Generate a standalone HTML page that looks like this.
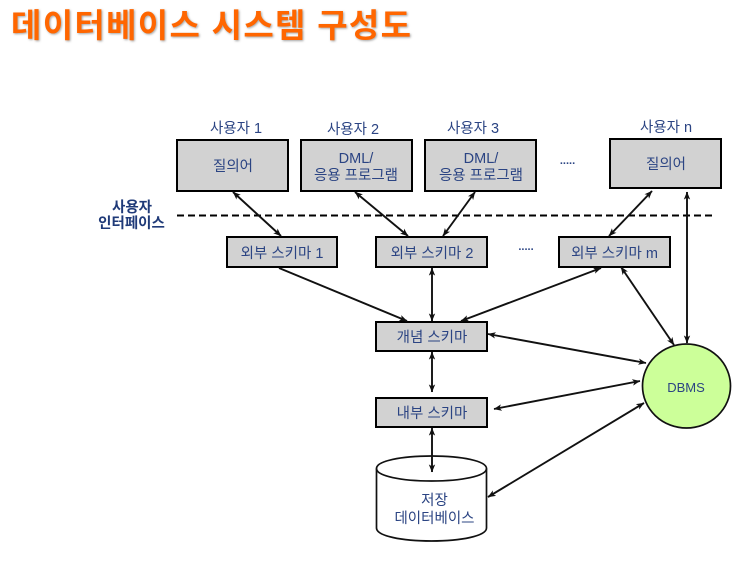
<!DOCTYPE html>
<html lang="ko"><head><meta charset="utf-8"><title>데이터베이스 시스템 구성도</title>
<style>
html,body{margin:0;padding:0;background:#fff}
svg{display:block;filter:blur(.3px)}
text{font-family:"Liberation Sans","Noto Sans CJK KR",sans-serif;fill:#2b4483;font-size:14.5px;text-anchor:middle}
.t{font-size:33px;font-weight:700;fill:#ff6600;text-anchor:start;text-shadow:1px 1px 2px rgba(90,90,90,.55)}
.b{font-weight:700;fill:#1f3a78}
.d{font-size:11px;font-weight:700}
.box{fill:#d2d2d2;stroke:#000;stroke-width:2}
.l{stroke:#111;stroke-width:1.9;fill:none}
</style></head><body>
<svg width="754" height="573" viewBox="0 0 754 573" xmlns="http://www.w3.org/2000/svg">
<defs>
<marker id="e" viewBox="0 0 10 8" refX="9.5" refY="4" markerWidth="8" markerHeight="7" markerUnits="userSpaceOnUse" orient="auto-start-reverse"><path d="M0 0L10 4L0 8L2.5 4Z" fill="#111"/></marker>
</defs>
<text class="t" x="11" y="37" textLength="400" lengthAdjust="spacing">데이터베이스 시스템 구성도</text>

<text x="236" y="133">사용자 1</text>
<text x="353" y="134">사용자 2</text>
<text x="473" y="133">사용자 3</text>
<text x="666" y="132">사용자 n</text>

<rect class="box" x="177" y="140" width="111" height="51"/>
<rect class="box" x="301" y="140" width="111" height="51"/>
<rect class="box" x="425" y="140" width="111" height="51"/>
<rect class="box" x="610" y="139" width="111" height="49"/>
<text x="233" y="171">질의어</text>
<text x="356" y="163">DML/</text><text x="356" y="180">응용 프로그램</text>
<text x="481" y="163">DML/</text><text x="481" y="180">응용 프로그램</text>
<text x="666" y="169">질의어</text>

<text class="d" x="567.5" y="164">.....</text>
<text class="d" x="526" y="250">.....</text>

<text class="b" x="132" y="212">사용자</text>
<text class="b" x="131.5" y="228">인터페이스</text>
<line x1="177" y1="215.5" x2="712" y2="215.5" stroke="#000" stroke-width="2" stroke-dasharray="7 4"/>

<rect class="box" x="227" y="237" width="110" height="30"/>
<rect class="box" x="376" y="237" width="111" height="30"/>
<rect class="box" x="559" y="237" width="111" height="30"/>
<text x="282" y="258">외부 스키마 1</text>
<text x="432" y="258">외부 스키마 2</text>
<text x="614.5" y="258">외부 스키마 m</text>

<rect class="box" x="376" y="322" width="111" height="29"/>
<rect class="box" x="376" y="398" width="111" height="29"/>
<text x="432" y="342">개념 스키마</text>
<text x="432" y="418">내부 스키마</text>

<ellipse cx="686.5" cy="386" rx="44" ry="42" fill="#ccff99" stroke="#111" stroke-width="1.7"/>
<text x="686" y="392" style="font-size:13px">DBMS</text>

<path d="M376.5 468.5C376.5 461 401 456 431.5 456S486.5 461 486.5 468.5V528C486.5 536 461 541 431.5 541S376.5 536 376.5 528Z" fill="#fff" stroke="#111" stroke-width="1.7"/>
<path d="M376.5 468.5C376.5 476 401 481 431.5 481S486.5 476 486.5 468.5" fill="none" stroke="#111" stroke-width="1.7"/>
<text x="434.5" y="505">저장</text>
<text x="434.5" y="523">데이터베이스</text>

<g class="l">
<line x1="233" y1="192" x2="281" y2="236" marker-start="url(#e)" marker-end="url(#e)"/>
<line x1="355" y1="192" x2="408" y2="236" marker-start="url(#e)" marker-end="url(#e)"/>
<line x1="475" y1="192" x2="443" y2="236" marker-start="url(#e)" marker-end="url(#e)"/>
<line x1="652" y1="191" x2="609" y2="236" marker-start="url(#e)" marker-end="url(#e)"/>
<line x1="687" y1="192" x2="687" y2="343" marker-start="url(#e)" marker-end="url(#e)"/>
<line x1="279" y1="268" x2="407" y2="321" marker-end="url(#e)"/>
<line x1="432" y1="268" x2="432" y2="321" marker-start="url(#e)" marker-end="url(#e)"/>
<line x1="601" y1="268" x2="461" y2="321" marker-start="url(#e)" marker-end="url(#e)"/>
<line x1="621" y1="267" x2="674" y2="345" marker-start="url(#e)" marker-end="url(#e)"/>
<line x1="488" y1="334" x2="646" y2="363" marker-start="url(#e)" marker-end="url(#e)"/>
<line x1="494" y1="409" x2="640" y2="381" marker-start="url(#e)" marker-end="url(#e)"/>
<line x1="432" y1="352" x2="432" y2="392" marker-start="url(#e)" marker-end="url(#e)"/>
<line x1="432" y1="428" x2="432" y2="472" marker-start="url(#e)" marker-end="url(#e)"/>
<line x1="488" y1="497" x2="644" y2="403" marker-start="url(#e)" marker-end="url(#e)"/>
</g>
</svg>
</body></html>
